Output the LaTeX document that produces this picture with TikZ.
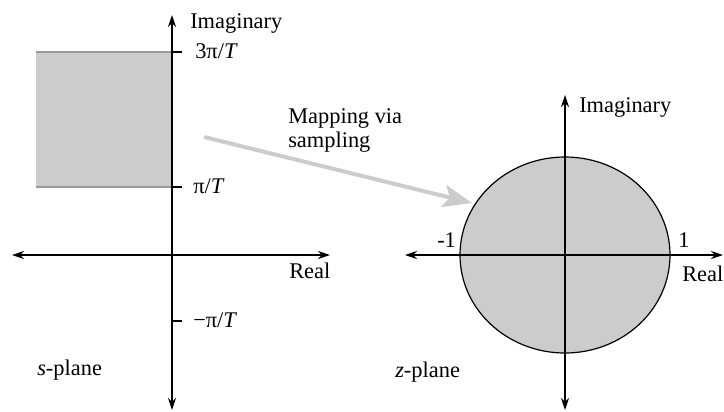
\documentclass[tikz,border=0pt]{standalone}
\usepackage{fontspec}
\setmainfont{Liberation Serif}
\usetikzlibrary{arrows.meta,shapes.geometric}
\definecolor{regiongray}{HTML}{CCCCCC}
\definecolor{edgegray}{HTML}{999999}
\definecolor{mapgray}{HTML}{CCCCCC}
\tikzset{
  axis/.style={line width=1pt, black, {Stealth[length=9pt,width=6pt]}-{Stealth[length=9pt,width=6pt]}},
  lbl/.style={anchor=base west, inner sep=0pt, font=\fontsize{16.8}{20}\selectfont},
  tickmark/.style={line width=0.8pt, black},
  maparrow/.style={line width=3pt, mapgray, -{Stealth[length=22pt,width=17pt,inset=5pt]}},
}
\begin{document}
\begin{tikzpicture}[x=0.75pt,y=-0.75pt]
\useasboundingbox (0,0) rectangle (724,411);
% ---- s-plane ----
\fill[regiongray] (36,52) rectangle (172,187);
\draw[edgegray, line width=1pt] (36,52) -- (172,52);
\draw[edgegray, line width=1pt] (36,187) -- (172,187);
\coordinate (sO) at (172,255);
\coordinate (sTop) at (172,15);
\coordinate (sBot) at (172,410);
\coordinate (sLeft) at (12,255);
\coordinate (sRight) at (330,255);
\draw[axis] (sLeft) -- (sRight);
\draw[axis] (sBot) -- (sTop);
\coordinate (t1) at (172,52);
\coordinate (t2) at (172,187);
\coordinate (t3) at (172,321);
\draw[tickmark] (t1) -- ++(10,0);
\draw[tickmark] (t2) -- ++(10,0);
\draw[tickmark] (t3) -- ++(10,0);
\node[lbl] (simag) at (190,28) {Imaginary};
\node[lbl] (s3pi) at (195,58) {3π/\textit{T}};
\node[lbl] (spi) at (193,193) {π/\textit{T}};
\node[lbl] (sreal) at (289,278) {Real};
\node[lbl] (smpi) at (193,327) {−π/\textit{T}};
\node[lbl] (splane) at (37,375) {\textit{s}-plane};
% ---- z-plane ----
\node[draw=black, line width=0.9pt, fill=regiongray, ellipse, minimum width=157.5pt, minimum height=147pt, inner sep=0pt] (circ) at (565,255) {};
\coordinate (zTop) at (565,95);
\coordinate (zBot) at (565,410);
\coordinate (zLeft) at (405,255);
\coordinate (zRight) at (723,255);
\draw[axis] (zLeft) -- (zRight);
\draw[axis] (zBot) -- (zTop);
\node[lbl] (zimag) at (579,112) {Imaginary};
\node[lbl] (zm1) at (437,247) {-1};
\node[lbl] (zp1) at (678,247) {1};
\node[lbl] (zreal) at (682,281) {Real};
\node[lbl] (zplane) at (395,377) {\textit{z}-plane};
% ---- mapping arrow ----
\node[lbl] (map1) at (288,123) {Mapping via};
\node[lbl] (map2) at (288,147) {sampling};
\coordinate (mStart) at (204,137);
\coordinate (mEnd) at (472,203);
\draw[maparrow] (mStart) -- (mEnd);
\end{tikzpicture}
\end{document}
